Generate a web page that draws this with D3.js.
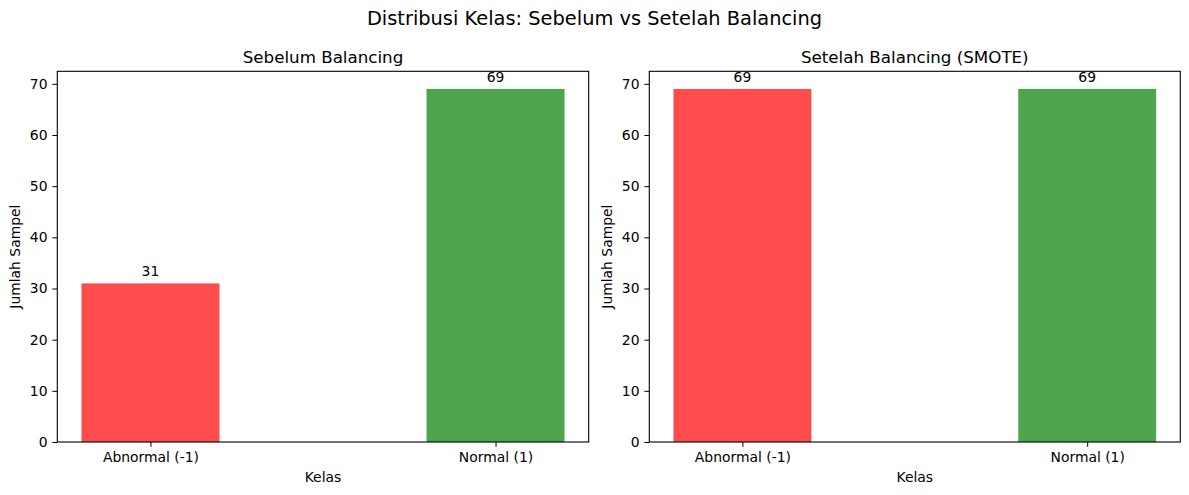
<!DOCTYPE html>
<html>
<head>
<meta charset="utf-8">
<script src="https://cdn.jsdelivr.net/npm/d3@7.9.0/dist/d3.min.js"></script>
<style>
  body { margin: 0; background: #fff; }
  svg { display: block; font-family: "DejaVu Sans", sans-serif; }
</style>
</head>
<body>
<svg id="chart" width="1189" height="495"></svg>
<script>
// --- Data ---
const categories = ['Abnormal (-1)', 'Normal (1)'];
const beforeCounts = [31, 69];
const afterCounts = [69, 69];
const panelTitles = ['Sebelum Balancing', 'Setelah Balancing (SMOTE)'];
const yTicks = [0, 10, 20, 30, 40, 50, 60, 70];
const barColors = ['rgb(255,77,77)', 'rgb(77,166,77)'];

const svg = d3.select('#chart');

// suptitle
svg.append('text')
  .attr('x', 594.5).attr('y', 25)
  .attr('text-anchor', 'middle')
  .attr('font-size', 19.4)
  .text('Distribusi Kelas: Sebelum vs Setelah Balancing');

// --- one panel ---
function drawPanel(left, right, title, values) {
  const top = 71.3, bottom = 442;
  const g = svg.append('g');

  // categories placed at 0,1 with bar width 0.4, matplotlib margins
  const x = d3.scaleLinear().domain([-0.27, 1.27]).range([left, right]);
  const y = d3.scaleLinear().domain([0, d3.max(values) * 1.05]).range([bottom, top]);
  const bw = 0.4;

  g.selectAll('rect.bar')
    .data(values)
    .join('rect')
      .attr('class', 'bar')
      .attr('x', (d, i) => x(i - bw / 2))
      .attr('width', (d, i) => x(i + bw / 2) - x(i - bw / 2))
      .attr('y', d => y(d))
      .attr('height', d => y(0) - y(d))
      .attr('fill', (d, i) => barColors[i]);

  // value labels
  g.selectAll('text.val')
    .data(values)
    .join('text')
      .attr('class', 'val')
      .attr('x', (d, i) => x(i))
      .attr('y', d => y(d) - 7)
      .attr('text-anchor', 'middle')
      .attr('font-size', 13.9)
      .text(d => d);

  // frame
  g.append('rect')
    .attr('x', left).attr('y', top)
    .attr('width', right - left).attr('height', bottom - top)
    .attr('fill', 'none').attr('stroke', '#000').attr('stroke-width', 1.1);

  // y axis
  const yAxis = d3.axisLeft(y).tickValues(yTicks).tickSize(4.9).tickPadding(4.9);
  const ya = g.append('g').attr('transform', `translate(${left},0)`).call(yAxis);
  ya.select('.domain').remove();
  ya.selectAll('text').attr('font-size', 13.9).attr('font-family', 'DejaVu Sans, sans-serif').attr('fill', '#000');

  // x axis
  const xAxis = d3.axisBottom(x).tickValues([0, 1]).tickFormat(i => categories[i]).tickSize(4.9).tickPadding(4.9);
  const xa = g.append('g').attr('transform', `translate(0,${bottom})`).call(xAxis);
  xa.select('.domain').remove();
  xa.selectAll('text').attr('font-size', 13.9).attr('font-family', 'DejaVu Sans, sans-serif').attr('fill', '#000').attr('dy', '0.71em');

  // titles & labels
  g.append('text')
    .attr('x', (left + right) / 2).attr('y', 63)
    .attr('text-anchor', 'middle').attr('font-size', 16.7)
    .text(title);
  g.append('text')
    .attr('x', (left + right) / 2).attr('y', 482)
    .attr('text-anchor', 'middle').attr('font-size', 13.9)
    .text('Kelas');
  g.append('text')
    .attr('transform', `translate(${left - 37},${(top + bottom) / 2}) rotate(-90)`)
    .attr('text-anchor', 'middle').attr('font-size', 13.9)
    .text('Jumlah Sampel');
}

drawPanel(57.3, 588.7, panelTitles[0], beforeCounts);
drawPanel(649.3, 1180.3, panelTitles[1], afterCounts);
</script>
</body>
</html>
